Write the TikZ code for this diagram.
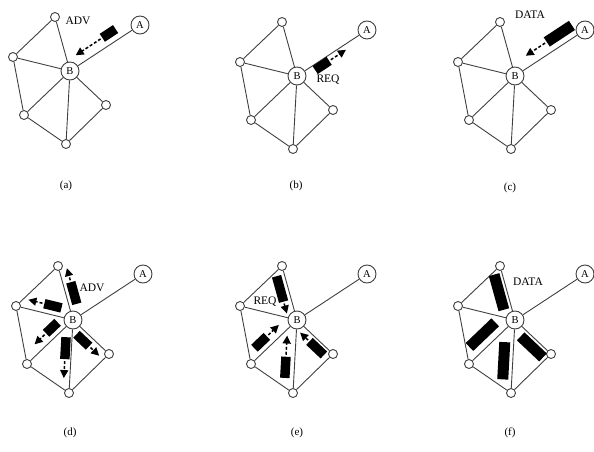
\documentclass[tikz,border=0pt]{standalone}
\usepackage{fontspec}
\setmainfont{Liberation Serif}
\usepackage{tikz}
\usetikzlibrary{arrows.meta,calc}
\definecolor{linegray}{HTML}{404040}
\tikzset{
  % Sensor nodes
  mote/.style={draw=linegray,line width=0.9pt,fill=white,circle,minimum size=9pt,
               inner sep=0pt},
  hub/.style={draw=linegray,line width=0.9pt,fill=white,circle,minimum size=18pt,
              inner sep=0pt,font=\fontsize{10.5}{10}\selectfont},
  link/.style={linegray,line width=0.9pt},
  % Packets
  pkt/.style={black,line width=9.5pt},
  datamsg/.style={line width=11pt},
  hop/.style={-{Triangle[length=8pt,width=8pt]},black,line width=1.5pt,
              dash pattern=on 3pt off 2pt,shorten <=2pt},
  % Labels
  msglb/.style={font=\fontsize{11.5}{12}\selectfont,inner sep=0pt},
  caplb/.style={font=\fontsize{11}{12}\selectfont,inner sep=0pt}
}
% one network, B at #2, node names prefixed with #1
\newcommand\sensnet[2]{%
  \begin{scope}[shift={(#2)}]
    \node[hub]  (#1B) at (0,0)     {B};
    \node[hub]  (#1A) at (70,-46)  {A};
    \node[mote] (#1t) at (-15,-54) {};
    \node[mote] (#1l) at (-57,-14) {};
    \node[mote] (#1w) at (-46,44)  {};
    \node[mote] (#1s) at (-4,73)   {};
    \node[mote] (#1r) at (36,34)   {};
    \draw[link] (#1t) -- (#1l) -- (#1w) -- (#1s) -- (#1r);
    \draw[link] (#1B) -- (#1t) (#1B) -- (#1l) (#1B) -- (#1w)
                (#1B) -- (#1s) (#1B) -- (#1r) (#1B) -- (#1A);
  \end{scope}}
% packet bar beside the link #2->#3, offset #4 to the right, from #5 to #6
\newcommand\msgbar[6][]{%
  \draw[pkt,#1] ($(#2)!#5!(#3)!#4!270:(#3)$) -- ($(#2)!#6!(#3)!#4!270:(#3)$);}
% packet bar plus dashed arrow up to #6
\newcommand\msg[7][]{%
  \msgbar[#1]{#2}{#3}{#4}{#5}{#6}
  \draw[hop] ($(#2)!#6!(#3)!#4!270:(#3)$) -- ($(#2)!#7!(#3)!#4!270:(#3)$);}

\begin{document}
\begin{tikzpicture}[x=1pt,y=-1pt]
  \useasboundingbox (0,0) rectangle (594,452);

  \sensnet{a}{70,71}
  \sensnet{b}{297,76}
  \sensnet{c}{515,76}
  \sensnet{d}{73,320}
  \sensnet{e}{297,320}
  \sensnet{f}{515,320}

  % (a) advertisement A -> B
  \msg{aA}{aB}{10pt}{0.27}{0.46}{0.84}
  \node[msglb] (advA) at (78,21) {ADV};

  % (b) request B -> A
  \msg{bB}{bA}{5pt}{0.22}{0.42}{0.66}
  \node[msglb] (reqB) at (328,80) {REQ};

  % (c) data A -> B
  \msg[datamsg]{cA}{cB}{11pt}{0.10}{0.46}{0.76}
  \node[msglb] (dataC) at (530,15) {DATA};

  % (d) B advertises to its neighbours
  \msg{dB}{dt}{8pt}{0.26}{0.66}{0.92}
  \msg{dB}{dl}{9pt}{0.24}{0.54}{0.82}
  \msg{dB}{dw}{9pt}{0.20}{0.45}{0.70}
  \msg{dB}{ds}{6pt}{0.24}{0.54}{0.80}
  \msg{dB}{dr}{8pt}{0.25}{0.60}{0.88}
  \node[msglb] (advD) at (92,288) {ADV};

  % (e) neighbours request from B
  \msg{et}{eB}{8pt}{0.15}{0.62}{0.84}
  \msg{ew}{eB}{-9pt}{0.21}{0.48}{0.74}
  \msg{es}{eB}{-9pt}{0.20}{0.49}{0.78}
  \msg{er}{eB}{-7pt}{0.12}{0.52}{0.78}
  \node[msglb] (reqE) at (265,302) {REQ};

  % (f) B sends data
  \msgbar[datamsg]{fB}{ft}{-8pt}{0.23}{0.88}
  \msgbar[datamsg]{fB}{fw}{12pt}{0.25}{0.81}
  \msgbar[datamsg]{fB}{fs}{9pt}{0.31}{0.82}
  \msgbar[datamsg]{fB}{fr}{8pt}{0.31}{0.93}
  \node[msglb] (dataF) at (528,282) {DATA};

  % captions
  \node[caplb] (capA) at (66,186)  {(a)};
  \node[caplb] (capB) at (296,186) {(b)};
  \node[caplb] (capC) at (510,188) {(c)};
  \node[caplb] (capD) at (70,433)  {(d)};
  \node[caplb] (capE) at (297,433) {(e)};
  \node[caplb] (capF) at (510,433) {(f)};
\end{tikzpicture}
\end{document}
